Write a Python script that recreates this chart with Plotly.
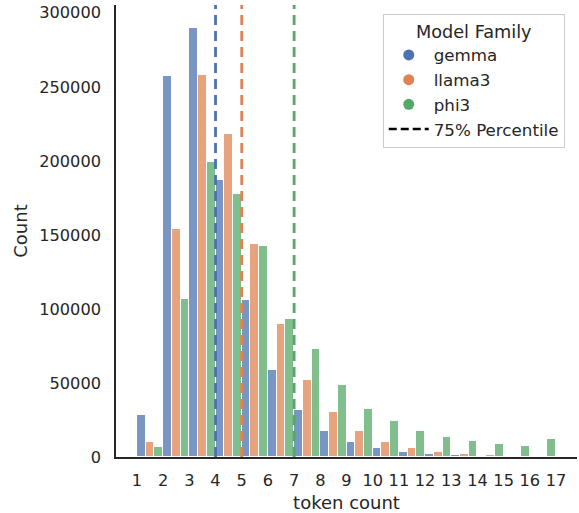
import plotly.graph_objects as go

# ---- data ----
tokens = list(range(1, 17))
tick_labels = [str(i) for i in range(1, 18)]
families = ["gemma", "llama3", "phi3"]
gemma = [28600, 257200, 289900, 187300, 106300, 59000, 32000, 17800, 10300, 6300, 3400, 2000, 1100, 300, 100, 0]
llama3 = [10100, 154300, 258300, 218300, 143900, 89900, 52200, 30400, 17800, 10300, 6300, 3600, 2200, 1400, 700, 200]
phi3 = [7000, 106700, 199300, 177800, 142300, 93400, 73000, 48900, 32400, 24300, 17800, 13300, 11000, 9000, 7600, 12100]
p75 = {"gemma": 4, "llama3": 5, "phi3": 7}

series = {"gemma": gemma, "llama3": llama3, "phi3": phi3}
colors = {"gemma": (76, 114, 176), "llama3": (221, 132, 82), "phi3": (85, 168, 104)}

FONT = "DejaVu Sans"
TXT = "#262626"

fig = go.Figure()
centers = [t + 0.5 for t in tokens]
for fam in families:
    r, g, b = colors[fam]
    fig.add_trace(go.Bar(
        x=centers, y=series[fam], name=fam, showlegend=False,
        marker=dict(color=f"rgba({r},{g},{b},0.75)", line=dict(color="white", width=1)),
    ))

# legend entries
for fam in families:
    r, g, b = colors[fam]
    fig.add_trace(go.Scatter(x=[None], y=[None], mode="markers", name=fam,
                             marker=dict(color=f"rgb({r},{g},{b})", size=11, symbol="circle")))
fig.add_trace(go.Scatter(x=[None], y=[None], mode="lines", name="75% Percentile",
                         line=dict(color="black", width=2.5, dash="8px,4px")))

for fam in families:
    r, g, b = colors[fam]
    fig.add_shape(type="line", x0=p75[fam], x1=p75[fam], y0=0, y1=1, xref="x", yref="paper",
                  line=dict(color=f"rgb({r},{g},{b})", width=2.8, dash="10px,6px"), layer="above")

ymax = max(max(gemma), max(llama3), max(phi3)) * 1.053

fig.update_layout(
    width=579, height=513,
    margin=dict(l=116, r=2, t=5, b=56),
    paper_bgcolor="white", plot_bgcolor="white",
    barmode="group", bargap=0, bargroupgap=0,
    font=dict(family=FONT, size=16.2, color=TXT),
    legend=dict(
        title=dict(text="Model Family", side="top center", font=dict(size=17.7, color=TXT)),
        x=0.5786, y=0.981, xanchor="left", yanchor="top",
        bordercolor="#cccccc", borderwidth=1, bgcolor="rgba(255,255,255,0.8)",
        font=dict(size=16.7, color=TXT), tracegroupgap=0, itemwidth=40,
    ),
    xaxis=dict(
        range=[0.2, 17.8], tickmode="array", tickvals=list(range(1, 18)), ticktext=tick_labels,
        showline=True, linecolor=TXT, linewidth=1.5, showgrid=False, zeroline=False,
        ticks="", ticklabelstandoff=8,
        title=dict(text="token count", standoff=7, font=dict(size=18)),
    ),
    yaxis=dict(
        range=[0, ymax], tickmode="array", tickvals=[0, 50000, 100000, 150000, 200000, 250000, 300000],
        tickformat="d", showline=True, linecolor=TXT, linewidth=1.5, showgrid=False, zeroline=False,
        ticks="", ticklabelstandoff=10,
        title=dict(text="Count", standoff=7, font=dict(size=18)),
    ),
)

fig.write_html("out.html")
